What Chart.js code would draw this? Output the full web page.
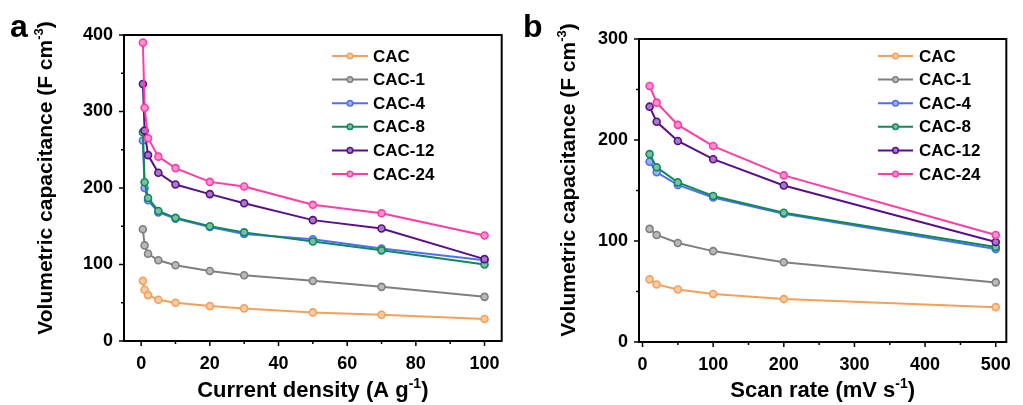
<!DOCTYPE html>
<html>
<head>
<meta charset="utf-8">
<script src="https://cdn.jsdelivr.net/npm/chart.js@4.4.1/dist/chart.umd.min.js"></script>
<style>
  html, body { margin: 0; padding: 0; background: #fff; }
  #wrap { position: relative; width: 1023px; height: 405px; overflow: hidden; }
  .panel { position: absolute; top: 0; height: 405px; }
  #pa { left: 0; width: 512px; }
  #pb { left: 512px; width: 511px; }
</style>
</head>
<body>
<div id="wrap">
  <div class="panel" id="pa"><canvas id="chartA" width="512" height="405"></canvas></div>
  <div class="panel" id="pb"><canvas id="chartB" width="511" height="405"></canvas></div>
</div>
<script>
// series names
const seriesNames = ["CAC", "CAC-1", "CAC-4", "CAC-8", "CAC-12", "CAC-24"];

// panel a: capacitance vs current density
const densityA = [0.5, 1, 2, 5, 10, 20, 30, 50, 70, 100];
const capA_CAC   = [78.6, 67, 60, 54, 50, 45.6, 42.6, 37.4, 34.3, 28.7];
const capA_CAC1  = [146, 125, 114, 105.5, 99, 91.6, 86, 78.6, 70.8, 57.7];
const capA_CAC4  = [262, 200, 184, 168, 160, 149, 140, 133, 121, 105.5];
const capA_CAC8  = [273, 207.5, 187, 170, 161, 150, 142, 130, 118.5, 100];
const capA_CAC12 = [336, 275, 243, 220, 204.5, 192, 180, 158, 147, 107];
const capA_CAC24 = [390, 305, 265, 241, 226, 208, 202, 178, 167, 138];

// panel b: capacitance vs scan rate
const scanB = [10, 20, 50, 100, 200, 500];
const capB_CAC   = [62, 57, 52, 47.5, 42.5, 34.5];
const capB_CAC1  = [112, 106, 98, 90, 79, 59];
const capB_CAC4  = [178.5, 168, 155.5, 143, 127, 92];
const capB_CAC8  = [186, 173, 158, 144.5, 128, 94];
const capB_CAC12 = [233, 218, 199, 181, 155, 99];
const capB_CAC24 = [253.5, 237, 215, 194, 165, 106];

// tick values
const xMajorA = [0, 20, 40, 60, 80, 100];
const xMinorA = [10, 30, 50, 70, 90];
const yMajorA = [0, 100, 200, 300, 400];
const yMinorA = [50, 150, 250, 350];
const xMajorB = [0, 100, 200, 300, 400, 500];
const xMinorB = [50, 150, 250, 350, 450];
const yMajorB = [0, 100, 200, 300];
const yMinorB = [50, 150, 250];

const seriesColors = ["#F5A05A", "#7F7F7F", "#4F6EF7", "#0E8A58", "#5B0E8C", "#FF3BA7"];
const FONT = '"Liberation Sans", Arial, sans-serif';

function lighten(hex, k) {
  const n = parseInt(hex.slice(1), 16);
  const r = (n >> 16) & 255, g = (n >> 8) & 255, b = n & 255;
  const m = c => Math.round(c + (255 - c) * k);
  return "rgb(" + m(r) + "," + m(g) + "," + m(b) + ")";
}
const fills = seriesColors.map(c => lighten(c, 0.45));

function makeSets(xs, cols) {
  return cols.map((vals, i) => ({
    label: seriesNames[i],
    data: xs.map((x, j) => ({ x: x, y: vals[j] })),
    borderColor: seriesColors[i],
    backgroundColor: fills[i],
    pointBorderColor: seriesColors[i],
    pointBackgroundColor: fills[i],
    borderWidth: 2,
    pointRadius: 3.5,
    pointBorderWidth: 1.6,
    pointHoverRadius: 3.5,
    tension: 0,
    order: cols.length - i
  }));
}

function richText(ctx, parts, x, y, size) {
  let total = 0;
  parts.forEach(p => {
    ctx.font = "bold " + (p.sup ? Math.round(size * 0.62) : size) + "px " + FONT;
    p.w = ctx.measureText(p.t).width;
    total += p.w;
  });
  let cx = x - total / 2;
  ctx.textAlign = "left";
  ctx.textBaseline = "alphabetic";
  parts.forEach(p => {
    ctx.font = "bold " + (p.sup ? Math.round(size * 0.62) : size) + "px " + FONT;
    ctx.fillText(p.t, cx, p.sup ? y - size * 0.42 : y);
    cx += p.w;
  });
}

// frame, minor/major ticks, legend, axis titles, panel letter
const panelDeco = {
  id: "panelDeco",
  afterDraw(chart, args, o) {
    const ctx = chart.ctx, a = chart.chartArea;
    const xs = chart.scales.x, ys = chart.scales.y;
    ctx.save();
    ctx.strokeStyle = "#000";
    ctx.fillStyle = "#000";
    ctx.lineWidth = 2;
    ctx.strokeRect(a.left, a.top, a.right - a.left, a.bottom - a.top);

    ctx.lineWidth = 1.5;
    const tick = (x0, y0, x1, y1) => { ctx.beginPath(); ctx.moveTo(x0, y0); ctx.lineTo(x1, y1); ctx.stroke(); };
    o.xMajor.forEach(v => { const p = xs.getPixelForValue(v); tick(p, a.bottom, p, a.bottom + 5); });
    o.xMinor.forEach(v => { const p = xs.getPixelForValue(v); tick(p, a.bottom, p, a.bottom + 3); });
    o.yMajor.forEach(v => { const p = ys.getPixelForValue(v); tick(a.left, p, a.left - 5, p); });
    o.yMinor.forEach(v => { const p = ys.getPixelForValue(v); tick(a.left, p, a.left - 3, p); });

    // legend
    ctx.font = "bold 17px " + FONT;
    ctx.textAlign = "left";
    ctx.textBaseline = "middle";
    seriesNames.forEach((name, i) => {
      const y = o.legY + i * 23.6;
      ctx.strokeStyle = seriesColors[i];
      ctx.lineWidth = 2;
      tick(o.legX0, y, o.legX1, y);
      ctx.beginPath();
      ctx.arc((o.legX0 + o.legX1) / 2, y, 2.8, 0, Math.PI * 2);
      ctx.fillStyle = fills[i];
      ctx.fill();
      ctx.lineWidth = 1.5;
      ctx.stroke();
      ctx.fillStyle = "#000";
      ctx.fillText(name, o.legText, y + 1);
    });

    // x title
    ctx.fillStyle = "#000";
    richText(ctx, o.xTitle, (a.left + a.right) / 2, 397, 22);
    // y title
    ctx.save();
    ctx.translate(o.yTitleX, o.yTitleY);
    ctx.rotate(-Math.PI / 2);
    richText(ctx, [{ t: "Volumetric capacitance (F cm" }, { t: "-3", sup: true }, { t: ")" }], 0, 0, 21);
    ctx.restore();
    // panel letter
    ctx.font = "bold 32px " + FONT;
    ctx.textAlign = "left";
    ctx.textBaseline = "alphabetic";
    ctx.fillText(o.letter, o.letterX, 37);
    ctx.restore();
  }
};

function buildOptions(cfg) {
  const tickFont = { family: FONT, size: 18, weight: "bold" };
  return {
    responsive: false,
    animation: false,
    events: [],
    layout: { padding: { left: 0, right: cfg.rightPad, top: cfg.topPad, bottom: 0 } },
    plugins: {
      legend: { display: false },
      tooltip: { enabled: false },
      panelDeco: cfg.deco
    },
    scales: {
      x: {
        type: "linear",
        min: cfg.xMin, max: cfg.xMax,
        grid: { display: false, drawTicks: false },
        border: { display: false },
        afterBuildTicks: s => { s.ticks = cfg.deco.xMajor.map(v => ({ value: v })); },
        afterFit: s => { s.height = cfg.xAxisH; },
        ticks: { color: "#000", font: tickFont, padding: 12, maxRotation: 0, autoSkip: false }
      },
      y: {
        type: "linear",
        min: cfg.yMin, max: cfg.yMax,
        grid: { display: false, drawTicks: false },
        border: { display: false },
        afterBuildTicks: s => { s.ticks = cfg.deco.yMajor.map(v => ({ value: v })); },
        afterFit: s => { s.width = cfg.yAxisW; },
        ticks: { color: "#000", font: tickFont, padding: 11, autoSkip: false }
      }
    }
  };
}

new Chart("chartA", {
  type: "line",
  data: { datasets: makeSets(densityA, [capA_CAC, capA_CAC1, capA_CAC4, capA_CAC8, capA_CAC12, capA_CAC24]) },
  options: buildOptions({
    xMin: -5, xMax: 105, yMin: 0, yMax: 400,
    rightPad: 10, topPad: 35, xAxisH: 64, yAxisW: 124,
    deco: {
      xMajor: xMajorA, xMinor: xMinorA, yMajor: yMajorA, yMinor: yMinorA,
      legX0: 332, legX1: 368, legText: 373, legY: 56,
      xTitle: [{ t: "Current density (A g" }, { t: "-1", sup: true }, { t: ")" }],
      yTitleX: 52, yTitleY: 178, letter: "a", letterX: 10
    }
  }),
  plugins: [panelDeco]
});

new Chart("chartB", {
  type: "line",
  data: { datasets: makeSets(scanB, [capB_CAC, capB_CAC1, capB_CAC4, capB_CAC8, capB_CAC12, capB_CAC24]) },
  options: buildOptions({
    xMin: -5, xMax: 515, yMin: 0, yMax: 300,
    rightPad: 9, topPad: 39, xAxisH: 63, yAxisW: 127,
    deco: {
      xMajor: xMajorB, xMinor: xMinorB, yMajor: yMajorB, yMinor: yMinorB,
      legX0: 366, legX1: 401, legText: 407, legY: 56,
      xTitle: [{ t: "Scan rate (mV s" }, { t: "-1", sup: true }, { t: ")" }],
      yTitleX: 63, yTitleY: 180, letter: "b", letterX: 11
    }
  }),
  plugins: [panelDeco]
});
</script>
</body>
</html>
